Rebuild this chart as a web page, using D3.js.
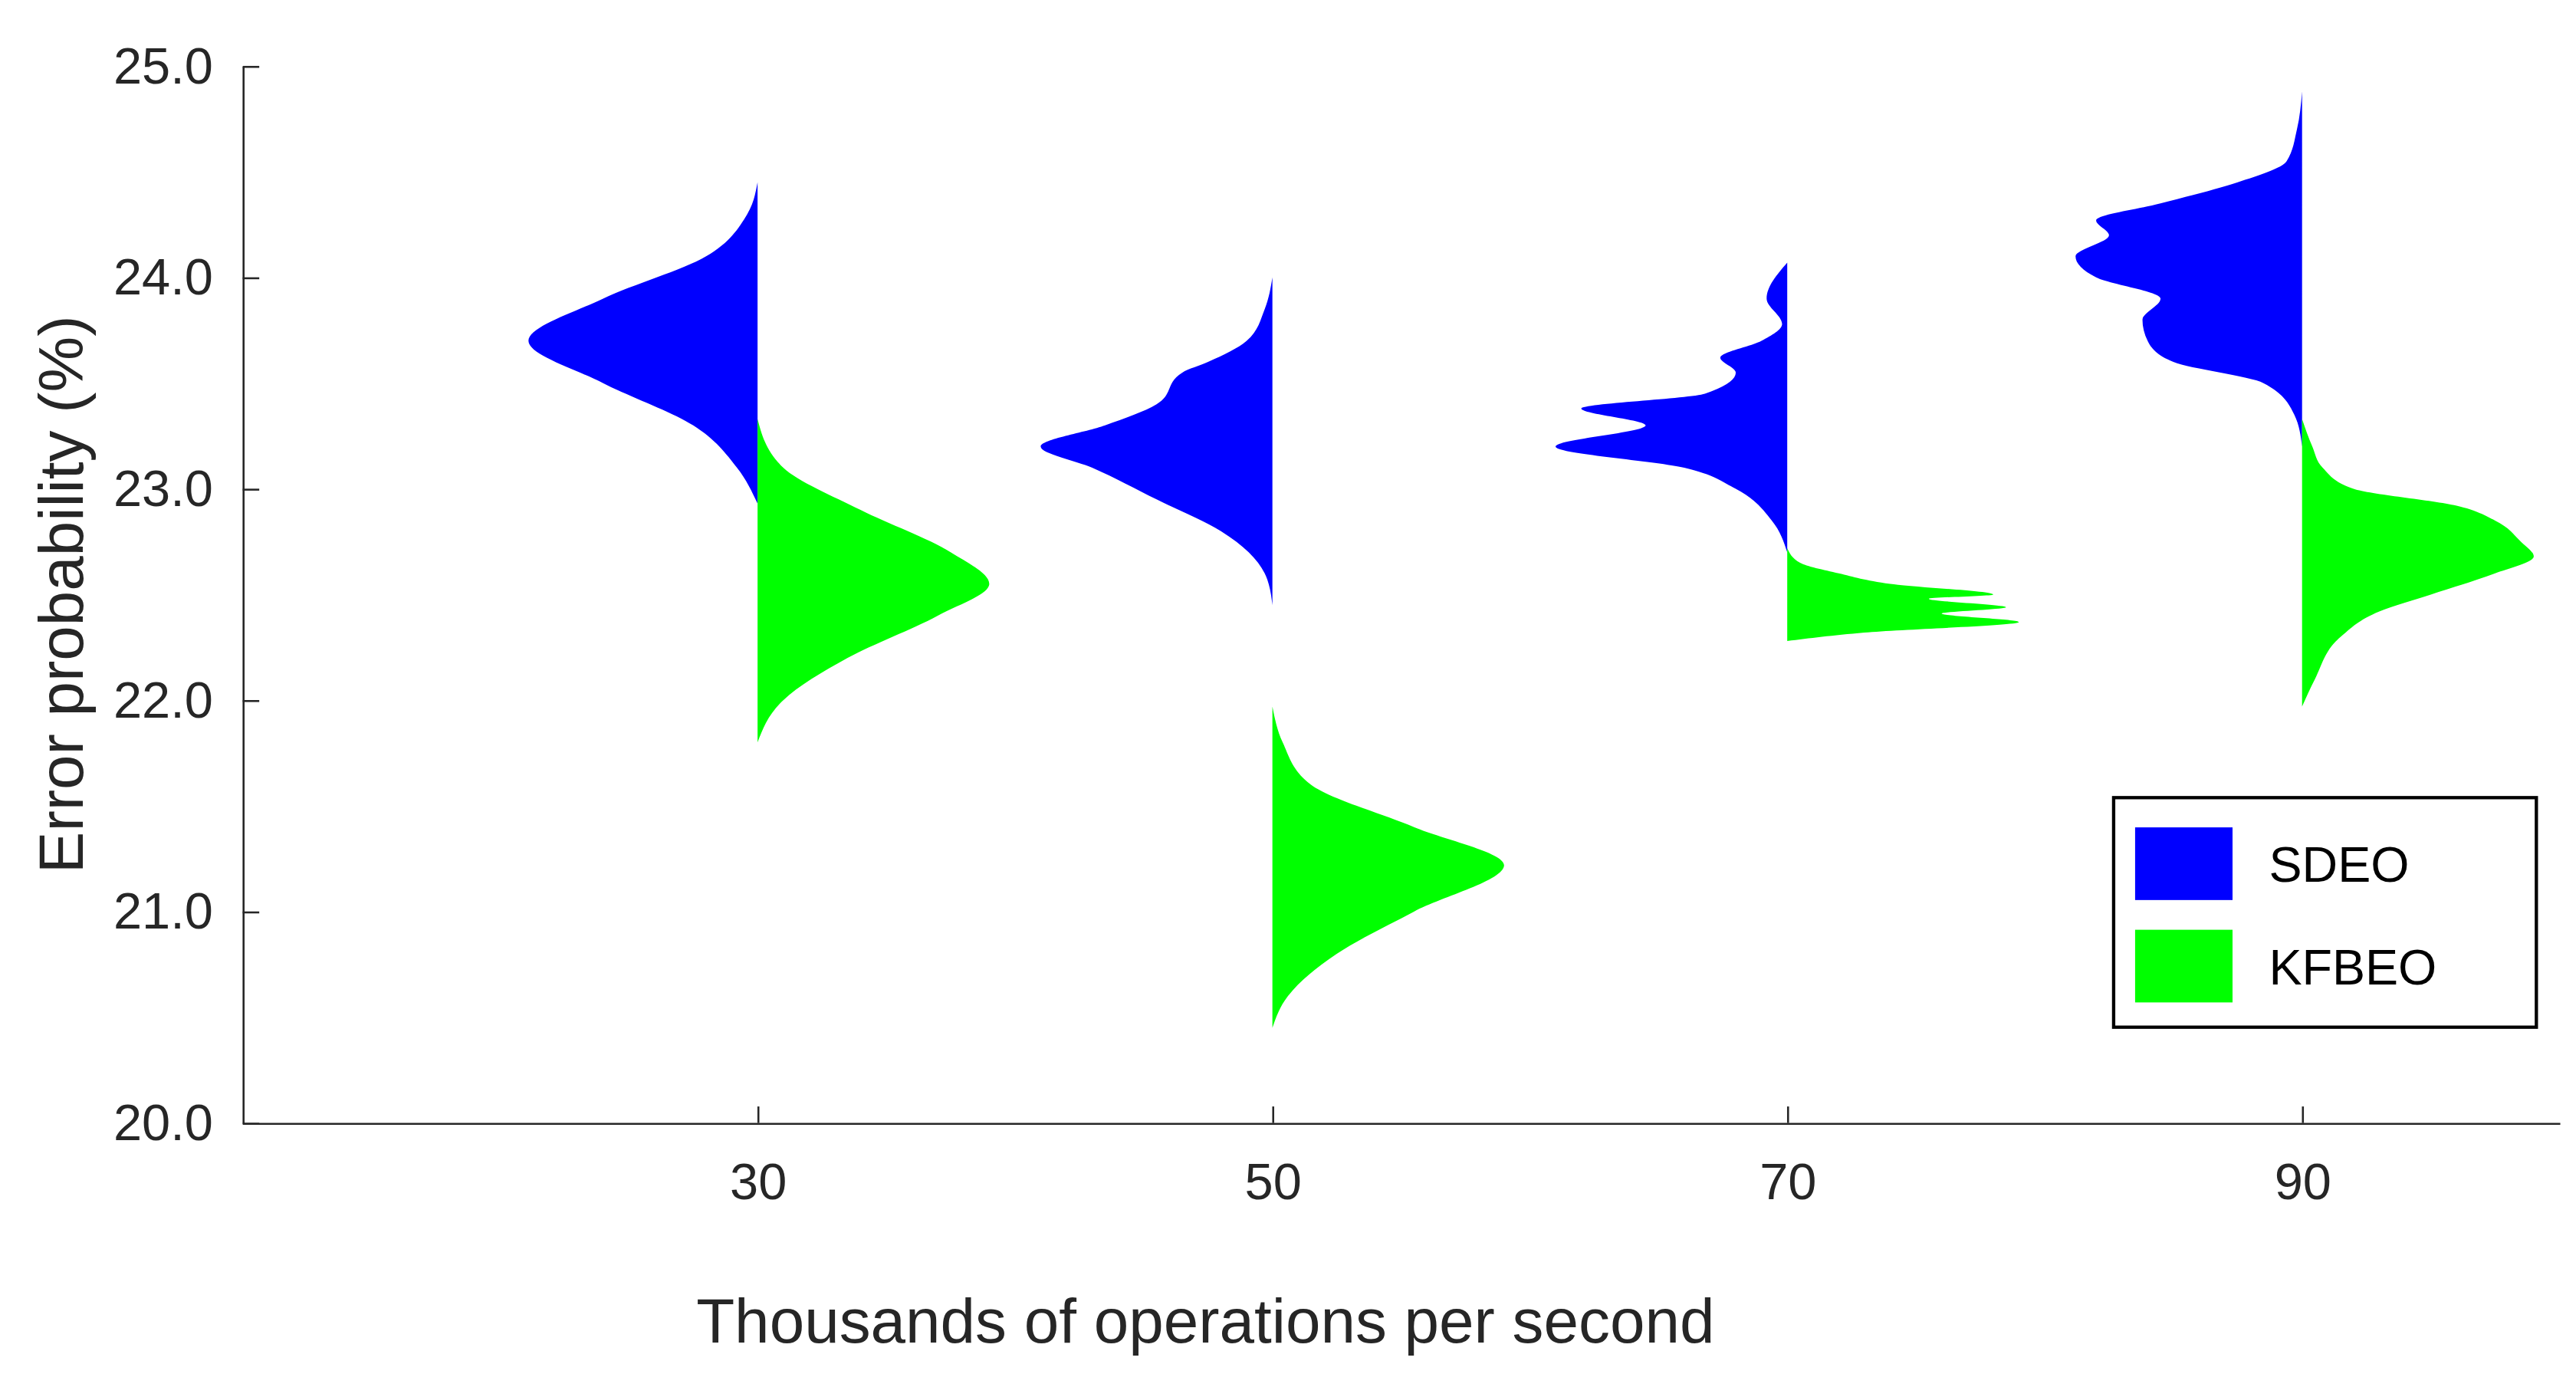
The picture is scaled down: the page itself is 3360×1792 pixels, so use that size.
<!DOCTYPE html>
<html><head><meta charset="utf-8">
<script src="https://cdn.jsdelivr.net/npm/d3@7"></script>
<style>body{margin:0;background:#fff}text{font-family:"Liberation Sans",Arial,sans-serif}</style>
</head><body><svg id="chart"></svg>
<script>
// categories (thousands of ops/s)
var categories = [30, 50, 70, 90];
var xTicks = [30, 50, 70, 90];
var yTicks = [20, 21, 22, 23, 24, 25];
// half-violin profiles: [error %, half-width in x units]
var sdeo = [
  [[22.93,0],[23.1,0.8],[23.3,2.5],[23.5,6],[23.7,8.9],[23.9,6],[24.1,2],[24.3,0.4],[24.45,0]],
  [[22.45,0],[22.6,0.3],[22.8,2],[22.95,4.5],[23.1,7],[23.2,9],[23.3,6.5],[23.4,4.5],[23.55,3.5],[23.6,2.5],[23.7,1],[23.85,0.3],[24.0,0]],
  [[22.7,0],[22.85,0.6],[23.0,2],[23.1,4],[23.2,9],[23.3,5.5],[23.38,8],[23.45,3.2],[23.55,2],[23.62,2.6],[23.7,1],[23.78,0.2],[23.9,0.8],[24.07,0]],
  [[23.2,0],[23.35,0.3],[23.5,1.5],[23.6,5],[23.7,6],[23.8,6.2],[23.9,5.5],[24.0,8],[24.1,8.8],[24.2,7.5],[24.27,8],[24.35,5.5],[24.45,2.5],[24.55,0.6],[24.7,0.2],[24.88,0]]
];
var kfbeo = [
  [[21.8,0],[22.0,1],[22.2,3.5],[22.4,7],[22.55,9],[22.7,7.5],[22.9,4],[23.1,1],[23.33,0]],
  [[20.45,0],[20.6,0.6],[20.8,2.5],[21.0,5.5],[21.22,9],[21.4,5.5],[21.6,1.5],[21.8,0.4],[21.97,0]],
  [[22.28,0],[22.32,3],[22.37,9],[22.41,6],[22.44,8.5],[22.48,5.5],[22.5,8],[22.55,4],[22.6,2],[22.65,0.5],[22.72,0]],
  [[21.97,0],[22.1,0.5],[22.3,1.5],[22.42,3],[22.5,5],[22.6,7.5],[22.68,9],[22.75,8.5],[22.85,7.5],[22.92,6],[23.0,2],[23.1,0.8],[23.2,0.4],[23.33,0]]
];
var seriesNames = ["SDEO", "KFBEO"];
var colors = ["#0000ff", "#00ff00"];

var W = 1560, H = 832;
var svg = d3.select('#chart').attr('width', 3360).attr('height', 1792).attr('viewBox', '0 0 ' + W + ' ' + H);
var x = d3.scaleLinear().domain([10, 100]).range([147, 1550]);
var y = d3.scaleLinear().domain([20, 25]).range([680, 40]);

function drawHalf(profile, cx, dir, color) {
  var area = d3.area().curve(d3.curveMonotoneY)
    .y(function(d){ return y(d[0]); })
    .x0(x(cx))
    .x1(function(d){ return x(cx + dir * d[1]); });
  svg.append('path').attr('d', area(profile)).attr('fill', color);
}
categories.forEach(function(c, i){
  drawHalf(sdeo[i], c, -1, colors[0]);
  drawHalf(kfbeo[i], c, 1, colors[1]);
});

var xAxis = svg.append('g').attr('transform', 'translate(0,' + y(20) + ')')
  .call(d3.axisBottom(x).tickValues(xTicks).tickSizeInner(-10).tickSizeOuter(0).tickPadding(24));
var yAxis = svg.append('g').attr('transform', 'translate(' + x(10) + ',0)')
  .call(d3.axisLeft(y).tickValues(yTicks).tickSizeInner(-10).tickSizeOuter(0).tickPadding(18));
[xAxis, yAxis].forEach(function(a){
  a.selectAll('path,line').attr('stroke', '#262626').attr('stroke-width', 1.2);
  a.selectAll('text').attr('font-size', 31).attr('fill', '#262626').attr('font-family', '"Liberation Sans",Arial,sans-serif');
});

svg.append('text').attr('x', 730).attr('y', 813).attr('text-anchor', 'middle')
  .attr('font-size', 38).attr('fill', '#262626').text('Thousands of operations per second');
svg.append('text').attr('transform', 'translate(50,360) rotate(-90)').attr('text-anchor', 'middle')
  .attr('font-size', 38).attr('fill', '#262626').text('Error probability (%)');

var lg = svg.append('g').attr('transform', 'translate(1280,483)');
lg.append('rect').attr('width', 256).attr('height', 139).attr('fill', '#fff').attr('stroke', '#000').attr('stroke-width', 2);
seriesNames.forEach(function(n, i){
  lg.append('rect').attr('x', 13).attr('y', 18 + i * 62).attr('width', 59).attr('height', 44).attr('fill', colors[i]);
  lg.append('text').attr('x', 94).attr('y', 51 + i * 62).attr('font-size', 30).attr('fill', '#000').text(n);
});
</script></body></html>
